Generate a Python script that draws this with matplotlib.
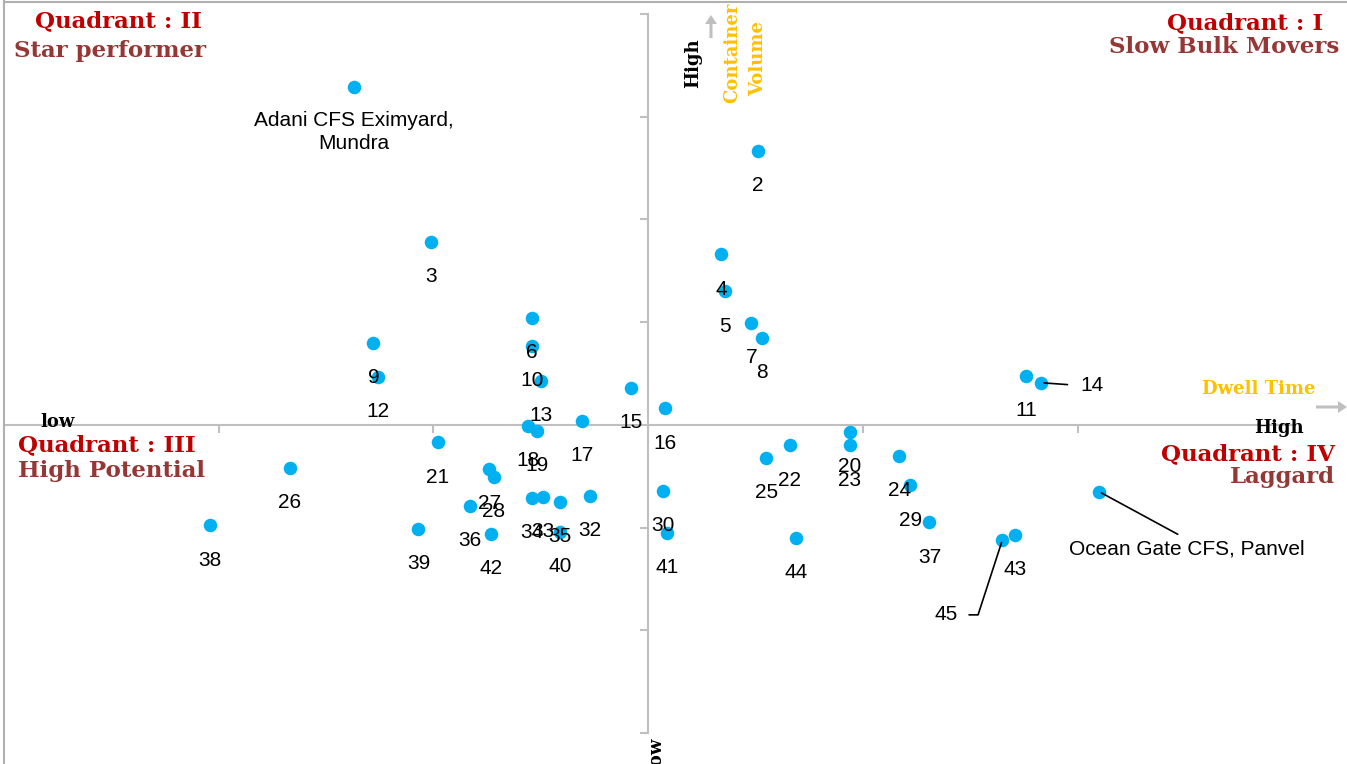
import matplotlib.pyplot as plt
from matplotlib.lines import Line2D
from matplotlib.patches import FancyArrow

W, H = 1347, 764

# CFS number, dwell time (x) and container volume (y), standardised scores
cfs_ids = [1, 2, 3, 4, 5, 6, 7, 8, 9, 10,
           11, 12, 13, 14, 15, 16, 17, 18, 19, 20,
           21, 22, 23, 24, 25, 26, 27, 28, 29, 30,
           31, 32, 33, 34, 35, 36, 37, 38, 39, 40,
           41, 42, 43, 44, 45]
dwell = [-1.37, 0.51, -1.01, 0.34, 0.36, -0.54, 0.48, 0.53, -1.28, -0.54,
         1.76, -1.26, -0.50, 1.83, -0.08, 0.08, -0.31, -0.56, -0.52, 0.94,
         -0.98, 0.66, 0.94, 1.17, 0.55, -1.67, -0.74, -0.72, 1.22, 0.07,
         2.10, -0.27, -0.49, -0.54, -0.41, -0.83, 1.31, -2.04, -1.07, -0.41,
         0.09, -0.73, 1.71, 0.69, 1.65]
volume = [3.29, 2.67, 1.78, 1.66, 1.30, 1.04, 0.99, 0.85, 0.80, 0.77,
          0.48, 0.47, 0.43, 0.41, 0.36, 0.16, 0.04, -0.01, -0.06, -0.07,
          -0.17, -0.20, -0.20, -0.30, -0.32, -0.42, -0.43, -0.51, -0.59, -0.64,
          -0.65, -0.69, -0.70, -0.71, -0.75, -0.79, -0.95, -0.98, -1.01, -1.04,
          -1.05, -1.06, -1.07, -1.10, -1.12]

named = {1: "Adani CFS Eximyard,\nMundra", 31: "Ocean Gate CFS, Panvel"}

BLUE = "#00B0F0"
GREY = "#BFBFBF"
RED = "#C00000"
BROWN = "#953735"
GOLD = "#FFC000"
SERIF = "DejaVu Serif"
SANS = "Liberation Sans"

fig = plt.figure(figsize=(W / 100, H / 100), dpi=100)
ax = fig.add_axes([0, 0, 1, 1])
ax.set_xlim(-3.019, 3.255)
ax.set_ylim(-3.302, 4.136)

# axes crossing at the origin
for s in ["top", "right"]:
    ax.spines[s].set_visible(False)
ax.spines["left"].set_position(("data", 0))
ax.spines["bottom"].set_position(("data", 0))
ax.spines["left"].set_bounds(-3, 4)
ax.spines["bottom"].set_bounds(-3, 3)
for s in ["left", "bottom"]:
    ax.spines[s].set_color(GREY)
    ax.spines[s].set_linewidth(1.5)
ax.set_xticks([-2, -1, 1, 2])
ax.set_yticks([-3, -2, -1, 1, 2, 3, 4])
ax.tick_params(length=6, width=1.5, color=GREY, direction="out",
               labelleft=False, labelbottom=False)

# chart area border (left and top)
fig.add_artist(Line2D([4 / W, 4 / W], [0, 1], color="#B0B0B0", lw=1.5))
fig.add_artist(Line2D([4 / W, 1], [1 - 1.5 / H, 1 - 1.5 / H], color="#B0B0B0", lw=1.5))

ax.scatter(dwell, volume, s=95, color=BLUE, linewidths=0, zorder=3)

lab = dict(fontsize=15, family=SANS, color="black", zorder=5)
for i, x, y in zip(cfs_ids, dwell, volume):
    if i == 1:
        ax.annotate(named[i], (x, y), xytext=(0, -32.5), textcoords="offset points",
                    ha="center", va="center", linespacing=1.25, **lab)
    elif i == 31:
        ax.annotate(named[i], (x, y), xytext=(63, -41), textcoords="offset points",
                    ha="center", va="center", **lab,
                    arrowprops=dict(arrowstyle="-", color="black", lw=1.2,
                                    relpos=(0.5, 1), shrinkA=3, shrinkB=2))
    elif i == 14:
        ax.annotate(str(i), (x, y), xytext=(28, -2), textcoords="offset points",
                    ha="left", va="center", **lab,
                    arrowprops=dict(arrowstyle="-", color="black", lw=1.2,
                                    relpos=(0, 0.5), shrinkA=7, shrinkB=2))
    elif i == 45:
        ax.annotate(str(i), (x, y), xytext=(-32, -54), textcoords="offset points",
                    ha="right", va="center", **lab,
                    arrowprops=dict(arrowstyle="-", color="black", lw=1.2,
                                    connectionstyle="angle,angleA=0,angleB=72,rad=0",
                                    relpos=(1, 0.5), shrinkA=6, shrinkB=2))
    else:
        ax.annotate(str(i), (x, y), xytext=(0, -25), textcoords="offset points",
                    ha="center", va="center", **lab)


def ftext(px, py, s, **kw):
    fig.text(px / W, 1 - py / H, s, **kw)


title = dict(family=SERIF, fontweight="bold", fontsize=16.5, va="center")
ftext(35, 21, "Quadrant : II", color=RED, ha="left", **title)
ftext(14, 51, "Star performer", color=BROWN, ha="left", **title)
ftext(1323, 23, "Quadrant : I", color=RED, ha="right", **title)
ftext(1339, 47, "Slow Bulk Movers", color=BROWN, ha="right", **title)
ftext(18, 445, "Quadrant : III", color=RED, ha="left", **title)
ftext(18, 471, "High Potential", color=BROWN, ha="left", **title)
ftext(1335, 454, "Quadrant : IV", color=RED, ha="right", **title)
ftext(1335, 477, "Laggard", color=BROWN, ha="right", **title)

axis_lab = dict(family=SERIF, fontweight="bold", fontsize=13)
ftext(58, 422, "low", color="black", ha="center", va="center", **axis_lab)
ftext(1279, 428, "High", color="black", ha="center", va="center", **axis_lab)
ftext(1259, 389, "Dwell Time", color=GOLD, ha="center", va="center", **axis_lab)
ftext(693, 63, "High", color="black", ha="center", va="center", rotation=90, **axis_lab)
ftext(732, 53, "Container", color=GOLD, ha="center", va="center", rotation=90, **axis_lab)
ftext(758, 58, "Volume", color=GOLD, ha="center", va="center", rotation=90, **axis_lab)
ftext(656, 738, "low", color="black", ha="center", va="top", rotation=90, **axis_lab)

# direction arrows
fig.add_artist(FancyArrow(1316 / W, 1 - 407 / H, 22 / W, 0, width=3 / H,
                          head_width=12 / H, head_length=9 / W, color=GREY, lw=0))
fig.add_artist(FancyArrow(711 / W, 1 - 38 / H, 0, 14 / H, width=3 / W,
                          head_width=12 / W, head_length=9 / H, color=GREY, lw=0))

fig.savefig("out.png", dpi=100)
